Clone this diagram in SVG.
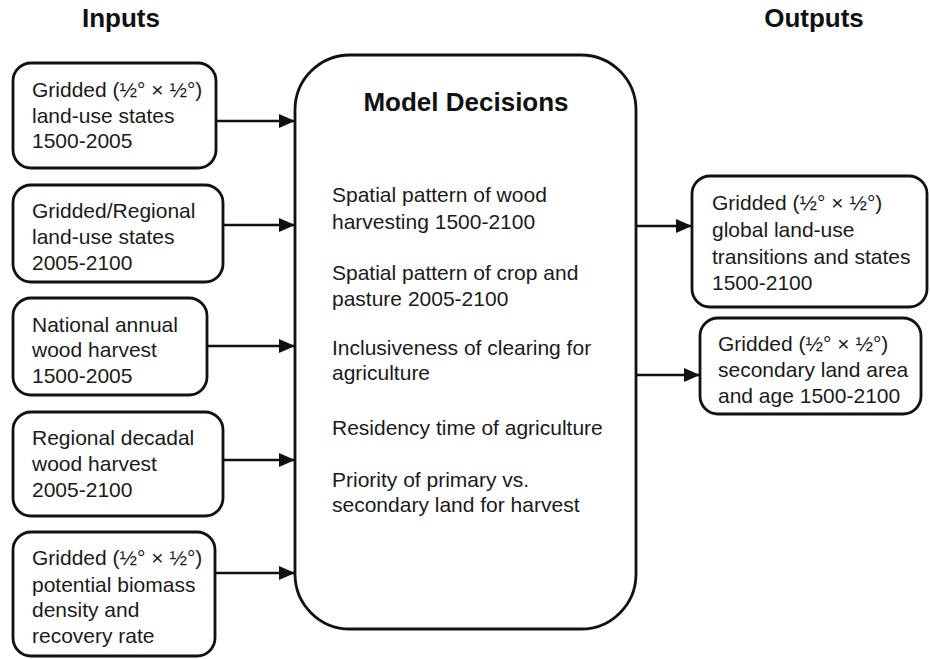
<svg xmlns="http://www.w3.org/2000/svg" width="930" height="659" viewBox="0 0 930 659">
<defs>
<marker id="ah" markerWidth="16" markerHeight="14" refX="16" refY="7" orient="auto" markerUnits="userSpaceOnUse">
<path d="M0,0 L16,7 L0,14 Z" fill="#111"/>
</marker>
<style>
.box{fill:#fff;stroke:#111;stroke-width:2.8}
.t{font-family:"Liberation Sans",Arial,sans-serif;font-size:21px;fill:#1a1a1a}
.h{font-family:"Liberation Sans",Arial,sans-serif;font-size:26px;font-weight:bold;fill:#111}
.c{stroke:#111;stroke-width:2.5;fill:none;marker-end:url(#ah)}
</style>
</defs>
<rect width="930" height="659" fill="#fff"/>
<text class="h" x="121" y="27" text-anchor="middle">Inputs</text>
<text class="h" x="814" y="27" text-anchor="middle">Outputs</text>

<g id="in1">
<rect class="box" x="13" y="63" width="203" height="105" rx="18"/>
<text class="t" x="32" y="97">Gridded (½° × ½°)</text>
<text class="t" x="32" y="123">land-use states</text>
<text class="t" x="32" y="148">1500-2005</text>
</g>
<g id="in2">
<rect class="box" x="13" y="185" width="210" height="97" rx="18"/>
<text class="t" x="32" y="218">Gridded/Regional</text>
<text class="t" x="32" y="244">land-use states</text>
<text class="t" x="32" y="270">2005-2100</text>
</g>
<g id="in3">
<rect class="box" x="13" y="298" width="194" height="97" rx="18"/>
<text class="t" x="32" y="332">National annual</text>
<text class="t" x="32" y="357">wood harvest</text>
<text class="t" x="32" y="383">1500-2005</text>
</g>
<g id="in4">
<rect class="box" x="13" y="412" width="210" height="104" rx="18"/>
<text class="t" x="32" y="445">Regional decadal</text>
<text class="t" x="32" y="471">wood harvest</text>
<text class="t" x="32" y="497">2005-2100</text>
</g>
<g id="in5">
<rect class="box" x="13" y="532" width="202" height="124" rx="18"/>
<text class="t" x="32" y="565">Gridded (½° × ½°)</text>
<text class="t" x="32" y="592">potential biomass</text>
<text class="t" x="32" y="617">density and</text>
<text class="t" x="32" y="643">recovery rate</text>
</g>

<g id="model">
<rect class="box" x="295" y="55" width="341" height="574" rx="55"/>
<text class="h" x="466" y="111" text-anchor="middle">Model Decisions</text>
<text class="t" x="332" y="202">Spatial pattern of wood</text>
<text class="t" x="332" y="229">harvesting 1500-2100</text>
<text class="t" x="332" y="280">Spatial pattern of crop and</text>
<text class="t" x="332" y="306">pasture 2005-2100</text>
<text class="t" x="332" y="355">Inclusiveness of clearing for</text>
<text class="t" x="332" y="380">agriculture</text>
<text class="t" x="332" y="435">Residency time of agriculture</text>
<text class="t" x="332" y="487">Priority of primary vs.</text>
<text class="t" x="332" y="512">secondary land for harvest</text>
</g>

<g id="out1">
<rect class="box" x="692" y="176" width="235" height="131" rx="18"/>
<text class="t" x="712" y="210">Gridded (½° × ½°)</text>
<text class="t" x="712" y="237">global land-use</text>
<text class="t" x="712" y="264">transitions and states</text>
<text class="t" x="712" y="290">1500-2100</text>
</g>
<g id="out2">
<rect class="box" x="700" y="318" width="221" height="96" rx="18"/>
<text class="t" x="718" y="351">Gridded (½° × ½°)</text>
<text class="t" x="718" y="377">secondary land area</text>
<text class="t" x="718" y="403">and age 1500-2100</text>
</g>

<g id="connectors">
<line class="c" x1="216" y1="121" x2="295" y2="121"/>
<line class="c" x1="223" y1="225" x2="295" y2="225"/>
<line class="c" x1="207" y1="346" x2="295" y2="346"/>
<line class="c" x1="223" y1="460" x2="295" y2="460"/>
<line class="c" x1="215" y1="573" x2="295" y2="573"/>
<line class="c" x1="636" y1="226" x2="692" y2="226"/>
<line class="c" x1="636" y1="375" x2="700" y2="375"/>
</g>
</svg>
